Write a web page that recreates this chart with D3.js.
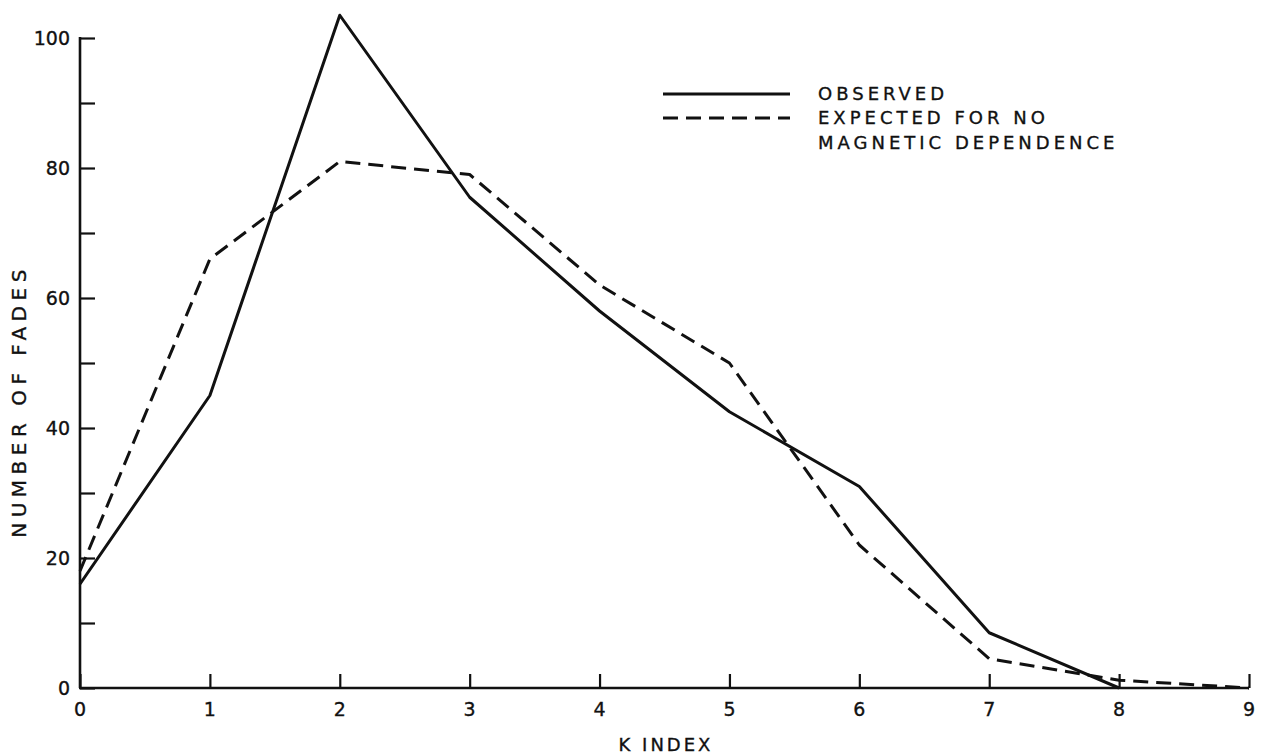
<!DOCTYPE html>
<html>
<head>
<meta charset="utf-8">
<script src="https://cdn.jsdelivr.net/npm/d3@7"></script>
<style>
  html, body { margin: 0; padding: 0; background: #fff; }
  svg { display: block; }
  text { font-family: "DejaVu Sans", sans-serif; fill: #111; stroke: #111; stroke-width: 0.35; }
</style>
</head>
<body>
<svg id="chart" width="1261" height="755"></svg>
<script>
// K index categories and fade counts
const kIndex = [0, 1, 2, 3, 4, 5, 6, 7, 8, 9];
const observed = [16, 45, 103.5, 75.5, 58, 42.5, 31, 8.5, 0];
const expected = [18, 66, 81, 79, 62, 50, 22, 4.5, 1.2, 0];
const yTicks = [0, 10, 20, 30, 40, 50, 60, 70, 80, 90, 100];
const yTickLabels = [0, 20, 40, 60, 80, 100];
const xTitle = "K INDEX";
const yTitle = "NUMBER OF FADES";
const legendItems = [
  { lines: ["OBSERVED"], dash: null },
  { lines: ["EXPECTED FOR NO", "MAGNETIC DEPENDENCE"], dash: "15,8" }
];

const svg = d3.select("#chart");
const ink = "#111";

const x = d3.scaleLinear().domain([0, 9]).range([80, 1249]);
const y = d3.scaleLinear().domain([0, 100]).range([688, 38]);

// axes: ticks point inward
const yAxis = d3.axisRight(y)
  .tickValues(yTicks)
  .tickSize(15)
  .tickFormat(() => "");
const yg = svg.append("g").attr("transform", `translate(${x(0)},0)`).call(yAxis);
yg.select(".domain").remove();
yg.selectAll(".tick line").attr("stroke", ink).attr("stroke-width", 2.2);

const xAxis = d3.axisTop(x)
  .tickValues(kIndex)
  .tickSize(14)
  .tickFormat(() => "");
const xg = svg.append("g").attr("transform", `translate(0,${y(0)})`).call(xAxis);
xg.select(".domain").remove();
xg.selectAll(".tick line").attr("stroke", ink).attr("stroke-width", 2.2);

// axis lines
svg.append("line")
  .attr("x1", x(0)).attr("x2", x(0)).attr("y1", y(100) - 1).attr("y2", y(0))
  .attr("stroke", ink).attr("stroke-width", 2.6);
svg.append("line")
  .attr("x1", x(0) - 1).attr("x2", x(9)).attr("y1", y(0)).attr("y2", y(0))
  .attr("stroke", ink).attr("stroke-width", 2.6);

// tick labels
svg.append("g").selectAll("text").data(yTickLabels).join("text")
  .attr("x", x(0) - 10).attr("y", d => y(d))
  .attr("dy", "0.36em")
  .attr("text-anchor", "end")
  .attr("font-size", 19)
  .text(d => d);

svg.append("g").selectAll("text").data(kIndex).join("text")
  .attr("x", d => x(d)).attr("y", y(0) + 21)
  .attr("dy", "0.36em")
  .attr("text-anchor", "middle")
  .attr("font-size", 19)
  .text(d => d);

// axis titles
svg.append("text")
  .attr("x", 666).attr("y", 745)
  .attr("dy", "0.36em")
  .attr("text-anchor", "middle")
  .attr("font-size", 18)
  .attr("letter-spacing", 3)
  .text(xTitle);

svg.append("text")
  .attr("transform", `translate(19,${401}) rotate(-90)`)
  .attr("dy", "0.36em")
  .attr("text-anchor", "middle")
  .attr("font-size", 20)
  .attr("letter-spacing", 5.5)
  .text(yTitle);

// data lines
const line = d3.line().x((d, i) => x(kIndex[i])).y(d => y(d));

svg.append("path")
  .datum(expected)
  .attr("d", line)
  .attr("fill", "none")
  .attr("stroke", ink)
  .attr("stroke-width", 3)
  .attr("stroke-dasharray", "15,8")
  .attr("stroke-linejoin", "round");

svg.append("path")
  .datum(observed)
  .attr("d", line)
  .attr("fill", "none")
  .attr("stroke", ink)
  .attr("stroke-width", 3)
  .attr("stroke-linejoin", "round");

// legend
const lg = svg.append("g");
let ly = 94;
legendItems.forEach(item => {
  lg.append("line")
    .attr("x1", 663).attr("x2", 790).attr("y1", ly).attr("y2", ly)
    .attr("stroke", ink).attr("stroke-width", 3)
    .attr("stroke-dasharray", item.dash);
  item.lines.forEach((t, j) => {
    lg.append("text")
      .attr("x", 818).attr("y", ly + j * 25)
      .attr("dy", "0.36em")
      .attr("font-size", 18)
      .attr("letter-spacing", 4)
      .text(t);
  });
  ly += 24 * item.lines.length;
});
</script>
</body>
</html>
